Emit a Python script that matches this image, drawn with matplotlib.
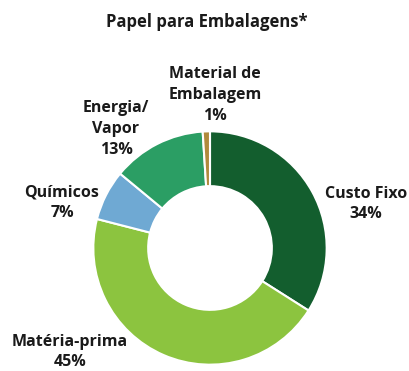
import matplotlib

matplotlib.use("Agg")
import matplotlib.pyplot as plt

# cost shares, clockwise from the top
labels = ["Custo Fixo", "Matéria-prima", "Químicos", "Energia/\nVapor", "Material de\nEmbalagem"]
shares = [34, 45, 7, 13, 1]
colors = ["#135e2e", "#8cc43f", "#6fa9d3", "#2b9e64", "#b08a3c"]

W, H = 410, 371
plt.rcParams["font.family"] = ["Open Sans", "DejaVu Sans"]

fig = plt.figure(figsize=(W / 100, H / 100), dpi=100)

# donut centre and radius in pixels
cx, cy, r = 210, 248, 119
ax = fig.add_axes([(cx - r) / W, (H - cy - r) / H, 2 * r / W, 2 * r / H])
ax.pie(
    shares,
    colors=colors,
    startangle=90,
    counterclock=False,
    radius=1.0,
    wedgeprops=dict(width=0.47, edgecolor="white", linewidth=1.5),
)
ax.set_xlim(-1.02, 1.02)
ax.set_ylim(-1.02, 1.02)
ax.set_aspect("equal")
ax.axis("off")


def put(x, y, s, size=11.5, ls=1.4):
    fig.text(x / W, 1 - y / H, s, ha="center", va="center", fontsize=size,
             fontweight="bold", color="#1a1a1a", linespacing=ls)


put(207, 22, "Papel para Embalagens*", size=12)

label_pos = [(366, 204), (70, 352), (62, 203), (116, 129), (215, 95)]
for (x, y), name, v in zip(label_pos, labels, shares):
    put(x, y, f"{name}\n{v}%")

fig.savefig("out.png", dpi=100)
